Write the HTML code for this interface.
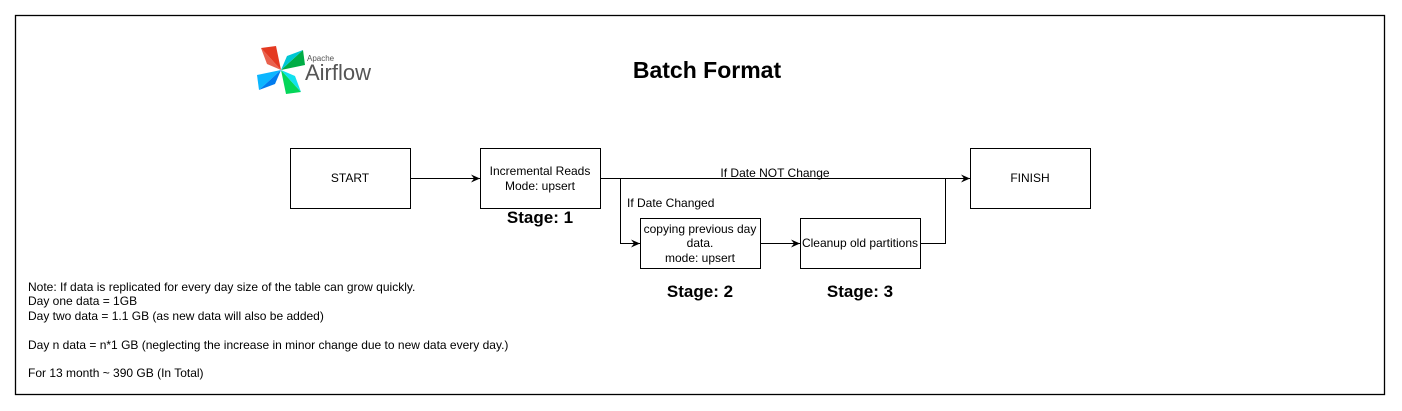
<!DOCTYPE html>
<html><head><meta charset="utf-8"><style>
html,body{margin:0;padding:0;background:#fff;}
svg{display:block;}
text{font-family:"Liberation Sans",Arial,sans-serif;fill:#000;}
</style></head><body>
<svg width="1402" height="411" viewBox="0 0 1402 411" xmlns="http://www.w3.org/2000/svg">
<defs><marker id="a" markerWidth="10" markerHeight="10" refX="9" refY="5" orient="auto" markerUnits="userSpaceOnUse"><path d="M0,1 L9,5 L0,9 L3,5 Z" fill="#000"/></marker></defs>
<rect x="15.5" y="15.5" width="1369" height="379" fill="#fff" stroke="#000" stroke-width="1.3"/>
<!-- logo -->
<g transform="translate(281,70)">
<path d="M0,0 L-20,-22 L-5,-24 Z" fill="#e43921"/>
<path d="M0,0 L22,-20 L24,-5 Z" fill="#00ad46"/>
<path d="M0,0 L20,22 L5,24 Z" fill="#04d659"/>
<path d="M0,0 L-22,20 L-24,5 Z" fill="#0cb6ff"/>
<path d="M0,0 L-20,-22 L-14,-6 Z" fill="#e43921" opacity=".8"/>
<path d="M0,0 L-22,20 L-6,14 Z" fill="#017cee"/>
<path d="M0,0 L22,-20 L6,-14 Z" fill="#00c7d4"/>
<path d="M0,0 L20,22 L14,6 Z" fill="#11e1ee"/>
</g>
<text x="307" y="61" font-size="8" style="fill:#555">Apache</text>
<text x="305" y="80" font-size="22" style="fill:#555">Airflow</text>
<text x="707" y="78" font-size="23" font-weight="bold" text-anchor="middle">Batch Format</text>
<!-- boxes -->
<g fill="#fff" stroke="#000" stroke-width="1">
<rect x="290.5" y="148.5" width="120" height="60"/>
<rect x="480.5" y="148.5" width="120" height="60"/>
<rect x="970.5" y="148.5" width="120" height="60"/>
<rect x="640.5" y="218.5" width="120" height="50"/>
<rect x="800.5" y="218.5" width="120" height="50"/>
</g>
<g font-size="12" text-anchor="middle">
<text x="350" y="182">START</text>
<text x="540" y="175">Incremental Reads</text>
<text x="540" y="190">Mode: upsert</text>
<text x="1030" y="182">FINISH</text>
<text x="700" y="233">copying previous day</text>
<text x="700" y="247">data.</text>
<text x="700" y="262">mode: upsert</text>
<text x="860" y="247">Cleanup old partitions</text>
<text x="775" y="177">If Date NOT Change</text>
</g>
<text x="627" y="207" font-size="12">If Date Changed</text>
<g font-size="17" font-weight="bold" text-anchor="middle">
<text x="540" y="223">Stage: 1</text>
<text x="700" y="297">Stage: 2</text>
<text x="860" y="297">Stage: 3</text>
</g>
<g stroke="#000" stroke-width="1" fill="none">
<line x1="410.5" y1="178.5" x2="480" y2="178.5" marker-end="url(#a)"/>
<line x1="600.5" y1="178.5" x2="970" y2="178.5" marker-end="url(#a)"/>
<polyline points="620.5,178.5 620.5,243.5 640,243.5" marker-end="url(#a)"/>
<line x1="760.5" y1="243.5" x2="800" y2="243.5" marker-end="url(#a)"/>
<polyline points="920.5,243.5 945.5,243.5 945.5,178.5"/>
</g>
<g font-size="12">
<text x="28" y="291">Note: If data is replicated for every day size of the table can grow quickly.</text>
<text x="28" y="305">Day one data = 1GB</text>
<text x="28" y="320">Day two data = 1.1 GB (as new data will also be added)</text>
<text x="28" y="349">Day n data = n*1 GB (neglecting the increase in minor change due to new data every day.)</text>
<text x="28" y="377">For 13 month ~ 390 GB (In Total)</text>
</g>
</svg>
</body></html>
